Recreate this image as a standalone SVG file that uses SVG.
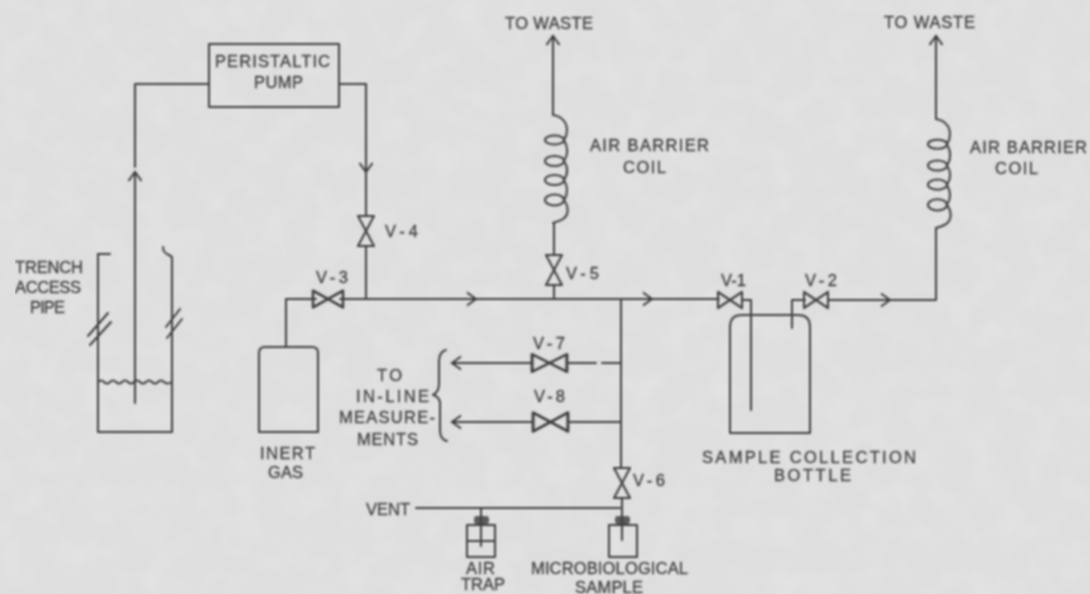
<svg xmlns="http://www.w3.org/2000/svg" xmlns:xlink="http://www.w3.org/1999/xlink" width="1090" height="594" viewBox="0 0 1090 594">
<style>
.l{fill:none;stroke:#3c3c3c;stroke-width:2;stroke-linejoin:round;stroke-linecap:round}
.t{font-family:"Liberation Sans",Arial,sans-serif;font-size:16.500px;fill:#404040;stroke:#404040;stroke-width:0.3}
</style>
<defs>
<filter id="soft" x="0" y="0" width="100%" height="100%"><feGaussianBlur stdDeviation="0.8"/></filter>
<filter id="grain" x="0" y="0" width="100%" height="100%">
<feTurbulence type="fractalNoise" baseFrequency="0.035" numOctaves="4" seed="7"/>
<feColorMatrix type="matrix" values="0 0 0 0 1  0 0 0 0 1  0 0 0 0 1  1.6 0 0 0 -0.62"/>
</filter>
<marker id="chev" markerUnits="userSpaceOnUse" markerWidth="16" markerHeight="16" refX="14" refY="8" orient="auto">
<path d="M5,1.5 L14,8 L5,14.5" fill="none" stroke="#3c3c3c" stroke-width="2"/>
</marker>
<g id="valveH"><path class="l" d="M-12,-7 L12,7 L12,-7 L-12,7 Z"/></g>
<g id="valveV"><path class="l" d="M-8,-15 L8,-15 L-8,15 L8,15 Z"/></g>
<g id="coil">
<path class="l" d="M0,0 C8,1 14,7 14,15 C14,19 13,22 11,25 C15,32 15,40 11,46 C15,52 15,59 11,65 C15,72 15,79 11,85 C16,92 16,100 10,104 C7,106 3,107 0,108"/>
<ellipse class="l" cx="1.500" cy="25" rx="9.500" ry="4.500"/>
<ellipse class="l" cx="1.500" cy="46" rx="9.500" ry="5"/>
<ellipse class="l" cx="1.500" cy="65" rx="9.500" ry="5"/>
<ellipse class="l" cx="1.500" cy="85" rx="9.500" ry="5.500"/>
</g>
</defs>
<rect width="1090" height="594" fill="#dedede"/>
<rect width="1090" height="594" filter="url(#grain)" opacity="0.18"/>
<g filter="url(#soft)">
<g id="connectors">
<path class="l" d="M209,84 H135 V167"/>
<path class="l" d="M135,403 V172" marker-end="url(#chev)"/>
<path class="l" d="M339,84 H366 V216"/>
<path class="l" d="M366,155 V172" marker-end="url(#chev)"/>
<path class="l" d="M366,247 V299"/>
<path class="l" d="M286,347 V299 H316"/>
<path class="l" d="M340,299 H719"/>
<path class="l" d="M460,299 H476" marker-end="url(#chev)"/>
<path class="l" d="M635,299 H652" marker-end="url(#chev)"/>
<path class="l" d="M554,299 V285"/>
<path class="l" d="M554,255 V223"/>
<path class="l" d="M553,115 V36" marker-end="url(#chev)"/>
<path class="l" d="M621,299 V468"/>
<path class="l" d="M621,363 H602 M596,363 H567"/>
<path class="l" d="M532,363 H452" marker-end="url(#chev)"/>
<path class="l" d="M621,422 H568"/>
<path class="l" d="M533,422 H452" marker-end="url(#chev)"/>
<path class="l" d="M622,498 V512"/>
<path class="l" d="M416,508 H620"/>
<path class="l" d="M481,508 V518"/>
<path class="l" d="M742,300 H751 V410"/>
<path class="l" d="M805,300 H792 V328"/>
<path class="l" d="M828,300 H936 V228"/>
<path class="l" d="M874,300 H890" marker-end="url(#chev)"/>
<path class="l" d="M936,119 V36" marker-end="url(#chev)"/>
</g>
<g id="pump"><rect class="l" x="209" y="44" width="130" height="63"/>
<text class="t" x="215" y="67" textLength="115">PERISTALTIC</text>
<text class="t" x="254" y="88" textLength="49">PUMP</text></g>
<g id="trench">
<path class="l" d="M110,254 H98 V432 H172 V258 C172,254 163,256 163,247"/>
<path class="l" d="M88,336 L108,313 M90,345 L111,322 M166,327 L180,309 M167,338 L182,319"/>
<path class="l" d="M98,382 q3,-3 6,0 t6,0 t6,0 t6,0 t6,0 t6,0 t6,0 t6,0 t6,0 t6,0 t6,0 t8,0"/>
<text class="t" x="15" y="273" textLength="68">TRENCH</text>
<text class="t" x="15" y="293" textLength="66">ACCESS</text>
<text class="t" x="30" y="313" textLength="35">PIPE</text></g>
<g id="inert-gas"><path class="l" d="M259,432 V353 Q259,347 265,347 H312 Q318,347 318,353 V432 Z"/>
<text class="t" x="260" y="459" textLength="55">INERT</text>
<text class="t" x="268" y="478" textLength="35">GAS</text></g>
<g id="v3"><use xlink:href="#valveH" href="#valveH" transform="translate(328,299) scale(1.25,1.2)"/><text class="t" x="316" y="283" textLength="32">V-3</text></g>
<g id="v4"><use xlink:href="#valveV" href="#valveV" transform="translate(366,231)"/><text class="t" x="385" y="237" textLength="33">V-4</text></g>
<g id="v5"><use xlink:href="#valveV" href="#valveV" transform="translate(554,270)"/><text class="t" x="566" y="279" textLength="33">V-5</text></g>
<g id="v1"><use xlink:href="#valveH" href="#valveH" transform="translate(730,300) scale(1,1.15)"/><text class="t" x="721" y="286" textLength="25">V-1</text></g>
<g id="v2"><use xlink:href="#valveH" href="#valveH" transform="translate(816,300) scale(1,1.15)"/><text class="t" x="805" y="286" textLength="32">V-2</text></g>
<g id="v6"><use xlink:href="#valveV" href="#valveV" transform="translate(622,483)"/><text class="t" x="633" y="486" textLength="32">V-6</text></g>
<g id="v7"><use xlink:href="#valveH" href="#valveH" transform="translate(549.500,363) scale(1.45,1.25)"/><text class="t" x="533" y="349" textLength="32">V-7</text></g>
<g id="v8"><use xlink:href="#valveH" href="#valveH" transform="translate(550.500,422) scale(1.45,1.35)"/><text class="t" x="534" y="402" textLength="31">V-8</text></g>
<g id="coil-1"><use xlink:href="#coil" href="#coil" transform="translate(553,115)"/>
<text class="t" x="590" y="151" textLength="119">AIR BARRIER</text>
<text class="t" x="623" y="173" textLength="43">COIL</text></g>
<g id="coil-2"><use xlink:href="#coil" href="#coil" transform="translate(936,119) scale(1,1.01)"/>
<text class="t" x="970" y="153" textLength="117">AIR BARRIER</text>
<text class="t" x="995" y="174" textLength="43">COIL</text></g>
<g id="waste-1"><text class="t" x="505" y="29" textLength="88">TO WASTE</text></g>
<g id="waste-2"><text class="t" x="884" y="28" textLength="91">TO WASTE</text></g>
<g id="sample-bottle"><path class="l" d="M730,433 V327 Q730,315 742,315 H798 Q810,315 810,327 V433 Z"/>
<text class="t" x="702" y="463" textLength="214">SAMPLE COLLECTION</text>
<text class="t" x="774" y="481" textLength="77">BOTTLE</text></g>
<g id="in-line">
<path class="l" d="M446,350 C441,351 439,355 439,362 V384 C439,390 437,393 433,395 C437,396 439,398 440,402 V430 C440,437 442,440 447,441"/>
<text class="t" x="377" y="381" textLength="25">TO</text>
<text class="t" x="356" y="402" textLength="73">IN-LINE</text>
<text class="t" x="339" y="423" textLength="96">MEASURE-</text>
<text class="t" x="357" y="445" textLength="61">MENTS</text></g>
<g id="vent"><text class="t" x="366" y="515" textLength="44">VENT</text></g>
<g id="air-trap">
<rect class="l" x="467" y="525" width="28" height="32"/>
<path class="l" d="M467,541 H495 M481,518 V546"/>
<rect x="474" y="516" width="15" height="8" rx="3" fill="#3c3c3c" opacity="0.8"/>
<text class="t" x="466" y="574" textLength="29">AIR</text>
<text class="t" x="461" y="590" textLength="44">TRAP</text></g>
<g id="micro-sample">
<rect class="l" x="609" y="525" width="28" height="32"/>
<path class="l" d="M622,512 V540"/>
<rect x="615" y="516" width="15" height="8" rx="3" fill="#3c3c3c" opacity="0.8"/>
<text class="t" x="531" y="574" textLength="157">MICROBIOLOGICAL</text>
<text class="t" x="575" y="593" textLength="68">SAMPLE</text></g>
</g>
</svg>
